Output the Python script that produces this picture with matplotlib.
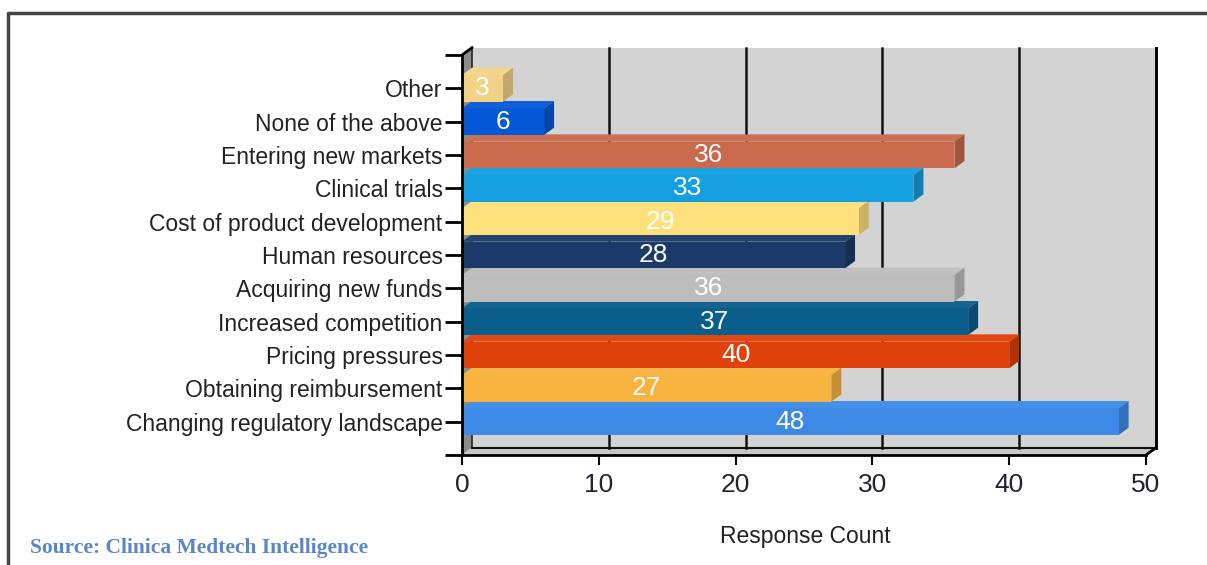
import matplotlib
matplotlib.use("Agg")
import matplotlib.pyplot as plt
from matplotlib.patches import Polygon
from matplotlib.lines import Line2D
from matplotlib.colors import to_rgb

# survey data, listed bottom to top as drawn
categories = ['Changing regulatory landscape', 'Obtaining reimbursement', 'Pricing pressures',
              'Increased competition', 'Acquiring new funds', 'Human resources',
              'Cost of product development', 'Clinical trials', 'Entering new markets',
              'None of the above', 'Other']
counts = [48, 27, 40, 37, 36, 28, 29, 33, 36, 6, 3]
colors = ['#3C8AE6', '#F8B23E', '#E0400A', '#0B5E8C', '#BDBDBD', '#1B3A68',
          '#FCE07C', '#139FE0', '#C96A4C', '#0559D6', '#F2D386']
xticks = [0, 10, 20, 30, 40, 50]

plt.rcParams['font.family'] = ['Liberation Sans', 'DejaVu Sans']

W, H = 1207, 565
fig = plt.figure(figsize=(W / 100, H / 100), dpi=100)
ax = fig.add_axes([462 / W, (H - 455) / H, 698 / W, 408 / H])

xmax = 50
dx, dy = 0.73, 0.22     # 3d depth in data units
bh = 0.8
ybot, ytop = -1, 11
ax.set_xlim(0, 698 / 13.68)
ax.set_ylim(ybot, ytop + dy + 0.02)
for s in ax.spines.values():
    s.set_visible(False)
ax.patch.set_visible(False)

def shade(c, f):
    r, g, b = to_rgb(c)
    if f < 1:
        return (r * f, g * f, b * f)
    return (r + (1 - r) * (f - 1), g + (1 - g) * (f - 1), b + (1 - b) * (f - 1))

# walls
ax.add_patch(Polygon([(dx, ybot + dy), (xmax + dx, ybot + dy), (xmax + dx, ytop + dy), (dx, ytop + dy)],
                     closed=True, facecolor='#D3D3D3', edgecolor='none', zorder=1))
ax.add_patch(Polygon([(0, ybot), (dx, ybot + dy), (dx, ytop + dy), (0, ytop)],
                     closed=True, facecolor='#8C8C8C', edgecolor='none', zorder=1))
ax.add_patch(Polygon([(0, ybot), (xmax, ybot), (xmax + dx, ybot + dy), (dx, ybot + dy)],
                     closed=True, facecolor='#C8C8C8', edgecolor='none', zorder=1))

# back wall grid lines
for v in xticks[1:]:
    ax.plot([v + dx, v + dx], [ybot + dy, ytop + dy], color='#111111', lw=1.8, zorder=2)
ax.plot([dx, dx], [ybot + dy, ytop + dy], color='#222222', lw=1.2, zorder=2)
ax.plot([dx, xmax + dx], [ybot + dy, ybot + dy], color='#111111', lw=1.5, zorder=2)

# bars, drawn bottom first so upper bars cover the top faces below
for i, (v, c) in enumerate(zip(counts, colors)):
    y0, y1 = i - bh / 2, i + bh / 2
    z = 3 + i
    ax.add_patch(Polygon([(0, y1), (v, y1), (v + dx, y1 + dy), (dx, y1 + dy)],
                         closed=True, facecolor=shade(c, 1.04), edgecolor='none', zorder=z))
    ax.add_patch(Polygon([(v, y0), (v + dx, y0 + dy), (v + dx, y1 + dy), (v, y1)],
                         closed=True, facecolor=shade(c, 0.8), edgecolor='none', zorder=z))
    ax.add_patch(Polygon([(0, y0), (v, y0), (v, y1), (0, y1)],
                         closed=True, facecolor=c, edgecolor='none', zorder=z))
    ax.text(v / 2, i, str(v), color='white', fontsize=19, ha='center', va='center', zorder=20)

# front axis lines
ax.plot([0, 0], [ybot, ytop], color='black', lw=2, zorder=25, clip_on=False)
ax.plot([0, dx], [ytop, ytop + dy], color='black', lw=2, zorder=25, clip_on=False)
ax.plot([0, xmax], [ybot, ybot], color='black', lw=2, zorder=25, clip_on=False)
ax.plot([xmax, xmax + dx], [ybot, ybot + dy], color='black', lw=2, zorder=25, clip_on=False)
ax.plot([xmax + dx, xmax + dx], [ybot + dy, ytop + dy], color='black', lw=2, zorder=25, clip_on=False)

ax.set_yticks(range(len(categories)))
ax.set_yticklabels(categories, fontsize=16.5, color='#222222')
ax.set_yticks([ybot, ytop], minor=True)
ax.tick_params(axis='y', which='both', length=12, width=2, pad=2, color='black')
ax.set_xticks(xticks)
ax.set_xticklabels([str(t) for t in xticks], fontsize=19, color='#222233')
ax.tick_params(axis='x', length=7, width=1.5, pad=6, color='black')

ax.text((805 - 462) / 698, (455 - 536) / 408, 'Response Count', transform=ax.transAxes,
        fontsize=16.5, color='#222222', ha='center', va='center')

fig.text(30 / W, 1 - 548 / H, 'Source: Clinica Medtech Intelligence', family='Liberation Serif',
         fontweight='bold', fontsize=15.5, color='#5A86C6', ha='left', va='center')

fig.add_artist(Line2D([8 / W, 8 / W, 1.01], [-0.01, 1 - 13 / H, 1 - 13 / H],
                      color='#444444', lw=2.5))

fig.savefig('out.png', dpi=100)
